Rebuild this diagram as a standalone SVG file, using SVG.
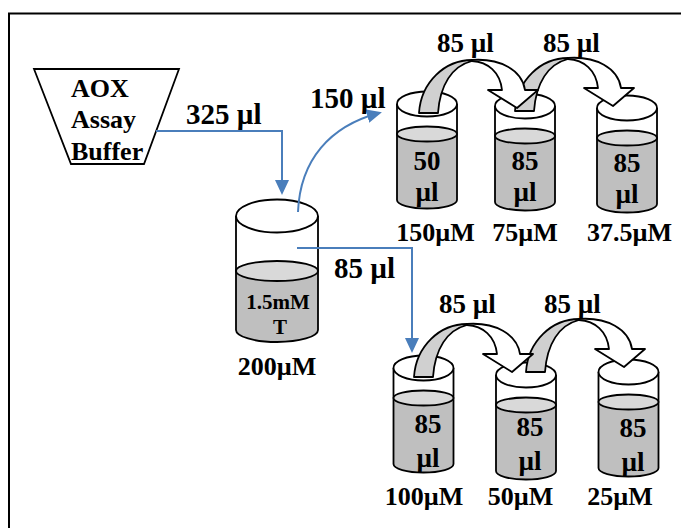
<svg xmlns="http://www.w3.org/2000/svg" xmlns:xlink="http://www.w3.org/1999/xlink" width="681" height="528" viewBox="0 0 681 528">
<style>
text{font-family:"Liberation Serif","Times New Roman",serif;font-weight:bold;fill:#000}
.lbl{font-size:29px}
.tr{font-size:27px}
.conc{font-size:26px;text-anchor:middle}
.in{font-size:27px;text-anchor:middle}
.ln{stroke:#000;stroke-width:1.8;fill:none}
.blue{stroke:#4a7ebb;stroke-width:2;fill:none}
.g{fill:#d0d0d0;stroke:#000;stroke-width:1.8;stroke-linejoin:round}
.w{fill:#fff;stroke:#000;stroke-width:1.8;stroke-linejoin:round}
</style>
<defs>
<marker id="ah" markerUnits="userSpaceOnUse" markerWidth="16" markerHeight="14" refX="12" refY="7" orient="auto">
<path d="M0,0 L15,7 L0,14 Z" fill="#4a7ebb"/>
</marker>
<g id="cyl">
<path d="M-30,30 L-30,96 A30,8.5 0 0 0 30,96 L30,30 Z" fill="#bfbfbf"/>
<path class="ln" d="M-30,0 L-30,96 A30,8.5 0 0 0 30,96 L30,0"/>
<ellipse cx="0" cy="30" rx="30" ry="7.5" fill="#d9d9d9" stroke="#000" stroke-width="1.8"/>
<ellipse cx="0" cy="0" rx="30" ry="12.5" fill="#fff" stroke="#000" stroke-width="1.8"/>
</g>
<g id="carrow">
<path class="g" d="M419,113 C421,82 445,60 472,60 L472,61 C452,66 440,85 438,113 Z"/>
<path class="w" d="M472,60 C500,58 522,70 525,90 L538,90 L517,108 L488,90 L502,90 C500,72 488,62 472,61 Z"/>
</g>
</defs>
<rect x="9" y="13.5" width="690" height="540" fill="none" stroke="#000" stroke-width="2"/>

<g id="buffer">
<polygon points="34,69 179,69 144,164 71,164" fill="#fff" stroke="#000" stroke-width="1.8"/>
<text x="71" y="97" style="font-size:26px">AOX</text>
<text x="71" y="128" style="font-size:26px">Assay</text>
<text x="71" y="160" style="font-size:26px">Buffer</text>
</g>

<g id="stock">
<path d="M236,271 L236,330 A41,12 0 0 0 318,330 L318,271 Z" fill="#bfbfbf"/>
<path class="ln" d="M236,216 L236,330 A41,12 0 0 0 318,330 L318,216"/>
<ellipse cx="277" cy="271" rx="41" ry="10" fill="#d9d9d9" stroke="#000" stroke-width="1.8"/>
<ellipse cx="277" cy="216" rx="41" ry="16.5" fill="#fff" stroke="#000" stroke-width="1.8"/>
<text x="278" y="309" style="font-size:21px;text-anchor:middle">1.5mM</text>
<text x="280" y="334" style="font-size:21px;text-anchor:middle">T</text>
<text x="277" y="375" class="conc">200µM</text>
</g>

<g id="tube-150">
<use xlink:href="#cyl" x="427" y="104"/>
<text x="427" y="170" class="in">50</text>
<text x="427" y="201" class="in">µl</text>
<text x="435.5" y="241" class="conc">150µM</text>
</g>
<g id="tube-75">
<use xlink:href="#cyl" x="525" y="106"/>
<text x="525" y="170" class="in">85</text>
<text x="525" y="201" class="in">µl</text>
<text x="525" y="241" class="conc">75µM</text>
</g>
<g id="tube-37">
<use xlink:href="#cyl" x="627" y="108"/>
<text x="627" y="172" class="in">85</text>
<text x="627" y="203" class="in">µl</text>
<text x="629.5" y="241" class="conc">37.5µM</text>
</g>
<g id="tube-100">
<use xlink:href="#cyl" x="423.5" y="368"/>
<text x="428" y="433" class="in">85</text>
<text x="428" y="467" class="in">µl</text>
<text x="424" y="505" class="conc">100µM</text>
</g>
<g id="tube-50">
<use xlink:href="#cyl" x="526" y="375"/>
<text x="530" y="436" class="in">85</text>
<text x="530" y="470" class="in">µl</text>
<text x="520.5" y="505" class="conc">50µM</text>
</g>
<g id="tube-25">
<use xlink:href="#cyl" x="628.5" y="372"/>
<text x="633" y="437" class="in">85</text>
<text x="633" y="471" class="in">µl</text>
<text x="620" y="505" class="conc">25µM</text>
</g>

<g id="connectors">
<path class="blue" d="M156,131 L282,131 L282,192" marker-end="url(#ah)"/>
<path class="blue" d="M298,212 C300,160 330,126 379,113" marker-end="url(#ah)"/>
<path class="blue" d="M297,248 L412,248 L412,350" marker-end="url(#ah)"/>
<use xlink:href="#carrow" transform="translate(96,-2)"/>
<use xlink:href="#carrow"/>
<use xlink:href="#carrow" transform="translate(107,259)"/>
<use xlink:href="#carrow" transform="translate(-5,264)"/>
<text x="186" y="124" class="lbl">325 µl</text>
<text x="310" y="108" class="lbl">150 µl</text>
<text x="334" y="278" class="lbl">85 µl</text>
<text x="437" y="52" class="tr">85 µl</text>
<text x="543" y="52" class="tr">85 µl</text>
<text x="439" y="313" class="tr">85 µl</text>
<text x="544" y="313" class="tr">85 µl</text>
</g>
</svg>
